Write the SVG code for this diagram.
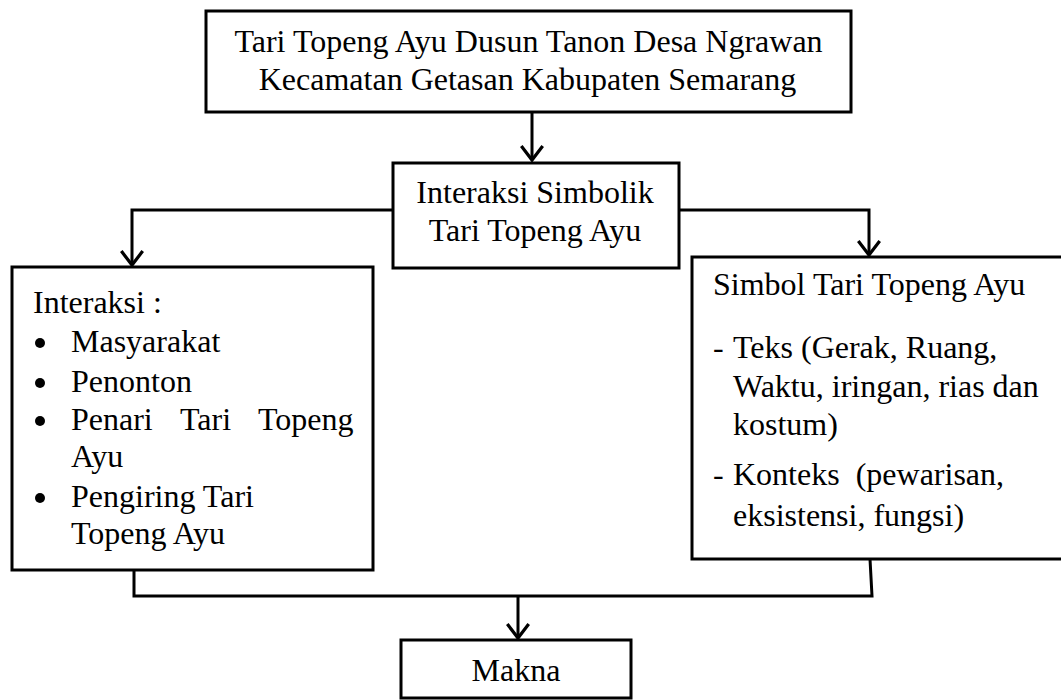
<svg xmlns="http://www.w3.org/2000/svg" width="1061" height="700" viewBox="0 0 1061 700">
<style>
.box{fill:#fff;stroke:#000;stroke-width:3}
.t{font-family:"Liberation Serif","Times New Roman",serif;font-size:32px;fill:#000}
.c{text-anchor:middle}
.ln{fill:none;stroke:#000;stroke-width:3;stroke-linejoin:miter}
</style>
<defs>
<marker id="ah" markerUnits="userSpaceOnUse" markerWidth="30" markerHeight="30" refX="0" refY="0" viewBox="-16 -14 20 28" orient="auto" overflow="visible">
<path d="M-13,-10 L0,0 L-13,10" fill="none" stroke="#000" stroke-width="3"/>
</marker>
</defs>
<rect width="1061" height="700" fill="#fff"/>
<g id="connectors">
<line class="ln" x1="532" y1="112" x2="532" y2="160" marker-end="url(#ah)"/>
<polyline class="ln" points="393,210 132,210 132,265" marker-end="url(#ah)"/>
<polyline class="ln" points="679,210 869,210 869,255" marker-end="url(#ah)"/>
<polyline class="ln" points="134,563 134,596 872,596 870,559"/>
<line class="ln" x1="518" y1="596" x2="518" y2="638" marker-end="url(#ah)"/>
</g>
<g id="node-top">
<rect class="box" x="206" y="11" width="645" height="101"/>
<text class="t c" x="528.5" y="52">Tari Topeng Ayu Dusun Tanon Desa Ngrawan</text>
<text class="t c" x="527.5" y="90">Kecamatan Getasan Kabupaten Semarang</text>
</g>
<g id="node-interaksi-simbolik">
<rect class="box" x="393" y="163" width="286" height="105"/>
<text class="t c" x="535" y="203">Interaksi Simbolik</text>
<text class="t c" x="535" y="241">Tari Topeng Ayu</text>
</g>
<g id="node-interaksi">
<rect class="box" x="12" y="267" width="361" height="303"/>
<text class="t" x="33" y="313">Interaksi :</text>
<circle cx="40" cy="343" r="5"/>
<text class="t" x="71" y="352">Masyarakat</text>
<circle cx="40" cy="383" r="5"/>
<text class="t" x="71" y="392">Penonton</text>
<circle cx="40" cy="421" r="5"/>
<text class="t" y="430"><tspan x="71">Penari</tspan><tspan x="180">Tari</tspan><tspan x="258">Topeng</tspan></text>
<text class="t" x="71" y="467">Ayu</text>
<circle cx="40" cy="498" r="5"/>
<text class="t" x="71" y="507">Pengiring Tari</text>
<text class="t" x="71" y="544">Topeng Ayu</text>
</g>
<g id="node-simbol">
<rect class="box" x="692" y="257" width="380" height="302"/>
<text class="t" x="713" y="295">Simbol Tari Topeng Ayu</text>
<text class="t" y="358"><tspan x="713">-</tspan><tspan x="733">Teks (Gerak, Ruang,</tspan></text>
<text class="t" x="733" y="397">Waktu, iringan, rias dan</text>
<text class="t" x="733" y="435">kostum)</text>
<text class="t" y="485" xml:space="preserve"><tspan x="713">-</tspan><tspan x="733">Konteks  (pewarisan,</tspan></text>
<text class="t" x="733" y="526">eksistensi, fungsi)</text>
</g>
<g id="node-makna">
<rect class="box" x="401" y="640" width="230" height="58"/>
<text class="t c" x="516" y="681">Makna</text>
</g>
</svg>
